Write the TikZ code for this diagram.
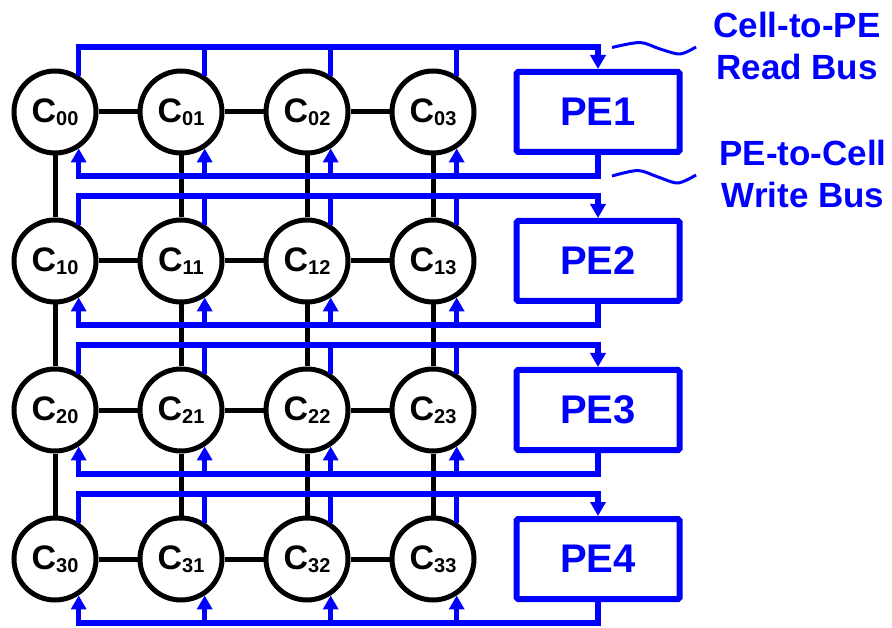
\documentclass[tikz,border=0pt]{standalone}
\usepackage{fontspec}
\setmainfont{Liberation Sans}
\usetikzlibrary{arrows.meta,calc}
\begin{document}
\begin{tikzpicture}[x=1pt,y=-1pt,
  cell/.style={circle,draw=black,line width=5pt,minimum size=82pt,inner sep=0pt,font=\fontsize{34}{34}\selectfont\bfseries},
  link/.style={line width=5pt,black},
  bus/.style={line width=5.5pt,blue},
  tip/.style={-{Triangle[length=14pt,width=15pt]}},
  pe/.style={draw=blue,line width=6pt,rounded corners=1.5pt,minimum width=163pt,minimum height=80pt,text=blue,font=\fontsize{40}{40}\selectfont\bfseries},
  lbl/.style={text=blue,align=center,inner sep=0pt,font=\fontsize{35}{42}\selectfont\bfseries},
  wave/.style={blue,line width=3pt}]
\useasboundingbox (0,0) rectangle (892,628);
% cells
\foreach \r in {0,...,3}{
  \foreach \c in {0,...,3}{
    \node[cell] (c\r\c) at ({55+126*\c},{112+149*\r}) {C\raisebox{-3pt}{\fontsize{20}{20}\selectfont\r\c}};
  }
}
% PEs
\foreach \n in {1,...,4}{
  \node[pe] (pe\n) at (598,{112+149*(\n-1)}) {PE\n};
}
% black links
\foreach \r in {0,...,3}{
  \foreach \c/\d in {0/1,1/2,2/3}{
    \draw[link] (c\r\c) -- (c\r\d);
  }
}
\foreach \c in {0,...,3}{
  \foreach \r/\s in {0/1,1/2,2/3}{
    \draw[link] (c\r\c) -- (c\s\c);
  }
}
% buses
\foreach \r/\n in {0/1,1/2,2/3,3/4}{
  \coordinate (rb\r) at (598,{47+149*\r});
  \coordinate (wb\r) at (598,{176+149*\r});
  \draw[bus,tip] (c\r0.57.5) |- (rb\r) -- (pe\n.north);
  \foreach \c in {1,2,3}{
    \draw[bus] (c\r\c.57.5) -- (c\r\c.57.5 |- rb\r);
  }
  \draw[bus,tip] (pe\n.south) -- (wb\r) -| (c\r0.-57.5);
  \foreach \c in {1,2,3}{
    \draw[bus,tip] (c\r\c.-57.5 |- wb\r) -- (c\r\c.-57.5);
  }
}
% labels
\node[lbl,anchor=north] (lab1) at (797,11.5) {Cell-to-PE\\Read Bus};
\node[lbl,anchor=north] (lab2) at (803,139.5) {PE-to-Cell\\Write Bus};
\draw[wave] plot[smooth] coordinates {(612,47.5) (640,42.5) (660,49) (680,54) (696,47)};
\draw[wave] plot[smooth] coordinates {(612,176) (638,170.5) (658,177) (678,183) (696,175)};
\end{tikzpicture}
\end{document}
